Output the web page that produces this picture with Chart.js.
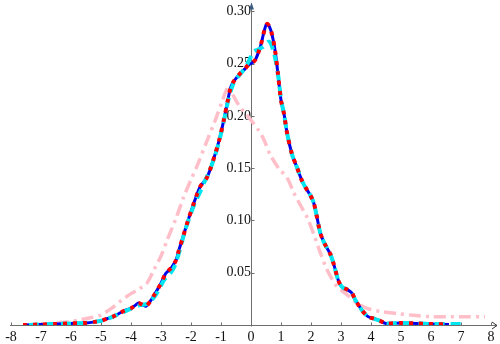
<!DOCTYPE html>
<html>
<head>
<meta charset="utf-8">
<script src="https://cdn.jsdelivr.net/npm/chart.js@4.4.1/dist/chart.umd.min.js"></script>
<style>
html,body{margin:0;padding:0;background:#fff;}
#wrap{width:500px;height:344px;position:relative;}
</style>
</head>
<body>
<div id="wrap"><canvas id="c"></canvas></div>
<script>
// Tick labels
const xTicks = [-8,-7,-6,-5,-4,-3,-2,-1,0,1,2,3,4,5,6,7,8];
const yTicks = [0.05,0.10,0.15,0.20,0.25,0.30];

// Blue solid series (also red dotted)
const blueX = [-7.6,-7.0,-6.5,-6.0,-5.5,-5.2,-5.0,-4.8,-4.6,-4.4,-4.2,-4.0,-3.85,-3.75,-3.6,-3.5,-3.35,-3.2,-3.0,-2.85,-2.75,-2.65,-2.5,-2.4,-2.28,-2.1,-1.9,-1.8,-1.7,-1.6,-1.47,-1.36,-1.2,-1.05,-0.9,-0.78,-0.68,-0.6,-0.47,-0.35,-0.2,-0.08,0.05,0.15,0.25,0.33,0.42,0.5,0.55,0.62,0.7,0.8,0.9,1.0,1.1,1.2,1.37,1.53,1.7,1.85,1.98,2.09,2.2,2.31,2.45,2.64,2.75,2.92,3.05,3.2,3.35,3.48,3.7,3.9,4.1,4.3,4.5,5.0,5.5,6.0,6.6];
const blueY = [0.000,0.0005,0.001,0.0015,0.002,0.003,0.004,0.006,0.008,0.011,0.014,0.016,0.019,0.021,0.019,0.018,0.023,0.030,0.040,0.049,0.052,0.055,0.062,0.072,0.083,0.100,0.117,0.125,0.132,0.136,0.141,0.149,0.163,0.178,0.197,0.214,0.227,0.232,0.237,0.241,0.245,0.249,0.251,0.254,0.261,0.268,0.279,0.287,0.288,0.285,0.278,0.263,0.240,0.215,0.202,0.184,0.163,0.151,0.138,0.130,0.124,0.117,0.103,0.088,0.078,0.068,0.059,0.042,0.036,0.034,0.031,0.024,0.014,0.008,0.006,0.004,0.0015,0.002,0.0015,0.001,0.0005];

// Cyan dashed series
const cyanX = [-7.4,-6.5,-6.0,-5.5,-5.0,-4.6,-4.2,-3.9,-3.7,-3.5,-3.3,-3.1,-2.9,-2.7,-2.55,-2.4,-2.2,-2.0,-1.85,-1.7,-1.55,-1.4,-1.2,-1.05,-0.9,-0.75,-0.6,-0.45,-0.3,-0.15,0.0,0.1,0.2,0.4,0.6,0.75,0.9,1.0,1.1,1.2,1.37,1.53,1.7,1.85,1.98,2.09,2.2,2.31,2.45,2.64,2.75,2.92,3.05,3.2,3.35,3.48,3.7,3.9,4.1,4.3,4.5,5.0,5.5,6.0,7.0];
const cyanY = [0.000,0.001,0.0015,0.002,0.004,0.008,0.013,0.017,0.019,0.020,0.024,0.032,0.043,0.049,0.056,0.069,0.090,0.107,0.118,0.127,0.137,0.146,0.162,0.177,0.196,0.216,0.230,0.237,0.242,0.248,0.257,0.262,0.263,0.266,0.271,0.262,0.240,0.216,0.202,0.184,0.163,0.151,0.138,0.130,0.124,0.117,0.103,0.088,0.078,0.068,0.059,0.042,0.036,0.034,0.031,0.024,0.014,0.008,0.006,0.004,0.0015,0.002,0.0015,0.001,0.001];

// Pink dash-dot series
const pinkX = [-7.3,-6.9,-6.5,-6.1,-5.7,-5.35,-5.0,-4.6,-4.3,-4.0,-3.7,-3.47,-3.25,-3.0,-2.8,-2.5,-2.25,-2.0,-1.8,-1.47,-1.19,-0.95,-0.8,-0.7,-0.58,-0.4,-0.2,0.0,0.26,0.42,0.64,0.92,1.2,1.42,1.64,1.87,2.09,2.3,2.5,2.64,2.86,3.2,3.53,3.87,4.3,4.87,5.5,6.0,7.0,7.8];
const pinkY = [0.000,0.001,0.002,0.003,0.005,0.007,0.0095,0.017,0.024,0.030,0.035,0.040,0.052,0.066,0.081,0.102,0.122,0.139,0.152,0.176,0.196,0.215,0.226,0.229,0.219,0.210,0.203,0.196,0.186,0.178,0.163,0.150,0.141,0.127,0.115,0.103,0.087,0.070,0.055,0.047,0.037,0.029,0.021,0.016,0.013,0.011,0.009,0.008,0.008,0.008];

const pts = (xs, ys) => xs.map((x, i) => ({x: x, y: ys[i]}));

const axesPlugin = {
  id: 'axesPlugin',
  beforeDatasetsDraw(chart) {
    const ctx = chart.ctx;
    const xs = chart.scales.x, ys = chart.scales.y;
    const x0 = Math.round(xs.getPixelForValue(0)) + 0.5;
    const y0 = Math.round(ys.getPixelForValue(0)) + 0.5;
    const xl = xs.getPixelForValue(-8), xr = xs.getPixelForValue(8);
    const yt = ys.getPixelForValue(0.30);
    ctx.save();
    ctx.strokeStyle = '#6e6e6e';
    ctx.lineWidth = 1;
    ctx.beginPath();
    ctx.moveTo(xl - 1, y0); ctx.lineTo(xr + 6, y0);
    ctx.moveTo(x0, y0 + 1); ctx.lineTo(x0, yt - 8);
    ctx.stroke();
    // tick marks
    ctx.beginPath();
    xTicks.forEach(v => {
      const p = Math.round(xs.getPixelForValue(v)) + 0.5;
      ctx.moveTo(p, y0); ctx.lineTo(p, y0 - 3);
    });
    yTicks.forEach(v => {
      const p = Math.round(ys.getPixelForValue(v)) + 0.5;
      ctx.moveTo(x0, p); ctx.lineTo(x0 + 3, p);
    });
    ctx.stroke();
    // top arrow
    ctx.fillStyle = '#3d5a80';
    ctx.beginPath();
    ctx.moveTo(x0, yt - 9); ctx.lineTo(x0 - 2.5, yt - 2); ctx.lineTo(x0 + 2.5, yt - 2);
    ctx.closePath(); ctx.fill();
    // right arrow
    ctx.strokeStyle = '#333';
    ctx.beginPath();
    ctx.moveTo(xr + 1, y0 - 3.5); ctx.lineTo(xr + 6, y0); ctx.lineTo(xr + 1, y0 + 3.5);
    ctx.stroke();
    ctx.restore();
  }
};

new Chart(document.getElementById('c'), {
  type: 'line',
  data: {
    datasets: [
      {label: 'pink', data: pts(pinkX, pinkY), borderColor: 'rgb(255,190,200)', borderWidth: 3.5, borderDash: [12,5,3,5], pointRadius: 0, tension: 0.3, fill: false, order: 4},
      {label: 'blue', data: pts(blueX, blueY), borderColor: 'rgb(0,0,235)', borderWidth: 3, pointRadius: 0, tension: 0.3, fill: false, order: 3},
      {label: 'cyan', data: pts(cyanX, cyanY), borderColor: 'rgb(0,230,240)', borderWidth: 4, borderDash: [10,6], pointRadius: 0, tension: 0.3, fill: false, order: 2},
      {label: 'red', data: pts(blueX, blueY), borderColor: 'rgb(255,0,0)', borderWidth: 4, borderDash: [4,6], borderCapStyle: 'butt', pointRadius: 0, tension: 0.3, fill: false, order: 1}
    ]
  },
  options: {
    responsive: true,
    maintainAspectRatio: false,
    animation: false,
    events: [],
    layout: {padding: {left: 11, right: 9, top: 10, bottom: 19}},
    plugins: {legend: {display: false}, tooltip: {enabled: false}},
    scales: {
      x: {
        type: 'linear', min: -8, max: 8,
        position: {y: 0},
        grid: {display: false},
        border: {display: false},
        afterBuildTicks: s => { s.ticks = xTicks.map(v => ({value: v})); },
        ticks: {
          color: '#111', padding: -4,
          font: {family: '"Liberation Serif", "Times New Roman", serif', size: 14},
          callback: v => String(v)
        }
      },
      y: {
        type: 'linear', min: 0, max: 0.30,
        position: {x: 0},
        grid: {display: false},
        border: {display: false},
        afterBuildTicks: s => { s.ticks = yTicks.map(v => ({value: v})); },
        ticks: {
          color: '#111', padding: 3,
          font: {family: '"Liberation Serif", "Times New Roman", serif', size: 14},
          callback: v => v.toFixed(2)
        }
      }
    }
  },
  plugins: [axesPlugin]
});
</script>
</body>
</html>
